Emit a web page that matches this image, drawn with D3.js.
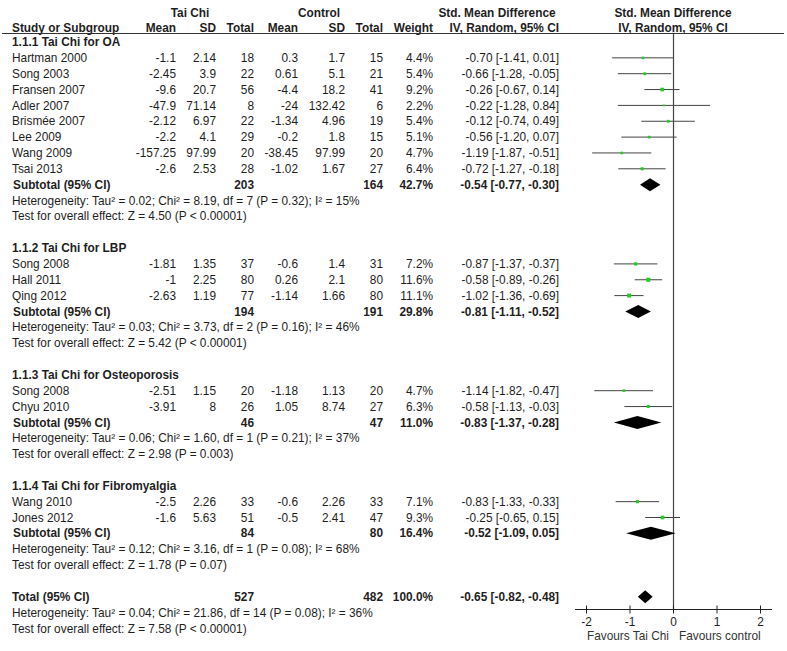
<!DOCTYPE html>
<html><head><meta charset="utf-8">
<script src="https://cdn.jsdelivr.net/npm/d3@7"></script>
<style>
body{margin:0;background:#fff}
text{font-family:"Liberation Sans",Arial,sans-serif;font-size:11.85px;fill:#1e1e1e}
</style>
</head><body><svg id="c" width="787" height="651"></svg>
<script>
const groupNames = ["1.1.1 Tai Chi for OA","1.1.2 Tai Chi for LBP","1.1.3 Tai Chi for Osteoporosis","1.1.4 Tai Chi for Fibromyalgia"];
const studyNames = ["Hartman 2000","Song 2003","Fransen 2007","Adler 2007","Brismée 2007","Lee 2009","Wang 2009","Tsai 2013","Song 2008","Hall 2011","Qing 2012","Song 2008","Chyu 2010","Wang 2010","Jones 2012"];
const studyGroup = [0,0,0,0,0,0,0,0,1,1,1,2,2,3,3];
const taiMean = [-1.1,-2.45,-9.6,-47.9,-2.12,-2.2,-157.25,-2.6,-1.81,-1,-2.63,-2.51,-3.91,-2.5,-1.6];
const taiSD = [2.14,3.9,20.7,71.14,6.97,4.1,97.99,2.53,1.35,2.25,1.19,1.15,8,2.26,5.63];
const taiN = [18,22,56,8,22,29,20,28,37,80,77,20,26,33,51];
const ctrlMean = [0.3,0.61,-4.4,-24,-1.34,-0.2,-38.45,-1.02,-0.6,0.26,-1.14,-1.18,1.05,-0.6,-0.5];
const ctrlSD = [1.7,5.1,18.2,132.42,4.96,1.8,97.99,1.67,1.4,2.1,1.66,1.13,8.74,2.26,2.41];
const ctrlN = [15,21,41,6,19,15,20,27,31,80,80,20,27,33,47];
const weight = [4.4,5.4,9.2,2.2,5.4,5.1,4.7,6.4,7.2,11.6,11.1,4.7,6.3,7.1,9.3];
const smd = [-0.70,-0.66,-0.26,-0.22,-0.12,-0.56,-1.19,-0.72,-0.87,-0.58,-1.02,-1.14,-0.58,-0.83,-0.25];
const ciLo = [-1.41,-1.28,-0.67,-1.28,-0.74,-1.20,-1.87,-1.27,-1.37,-0.89,-1.36,-1.82,-1.13,-1.33,-0.65];
const ciHi = [0.01,-0.05,0.14,0.84,0.49,0.07,-0.51,-0.18,-0.37,-0.26,-0.69,-0.47,-0.03,-0.33,0.15];

const subTaiN = [203,194,46,84];
const subCtrlN = [164,191,47,80];
const subWeight = [42.7,29.8,11.0,16.4];
const subSmd = [-0.54,-0.81,-0.83,-0.52];
const subLo = [-0.77,-1.11,-1.37,-1.09];
const subHi = [-0.30,-0.52,-0.28,0.05];
const subHet = [
 "Heterogeneity: Tau² = 0.02; Chi² = 8.19, df = 7 (P = 0.32); I² = 15%",
 "Heterogeneity: Tau² = 0.03; Chi² = 3.73, df = 2 (P = 0.16); I² = 46%",
 "Heterogeneity: Tau² = 0.06; Chi² = 1.60, df = 1 (P = 0.21); I² = 37%",
 "Heterogeneity: Tau² = 0.12; Chi² = 3.16, df = 1 (P = 0.08); I² = 68%"];
const subTest = [
 "Test for overall effect: Z = 4.50 (P < 0.00001)",
 "Test for overall effect: Z = 5.42 (P < 0.00001)",
 "Test for overall effect: Z = 2.98 (P = 0.003)",
 "Test for overall effect: Z = 1.78 (P = 0.07)"];

const totalTaiN = 527, totalCtrlN = 482, totalWeight = 100.0;
const totalSmd = -0.65, totalLo = -0.82, totalHi = -0.48;
const totalHet = "Heterogeneity: Tau² = 0.04; Chi² = 21.86, df = 14 (P = 0.08); I² = 36%";
const totalTest = "Test for overall effect: Z = 7.58 (P < 0.00001)";

const axisTicks = [-2,-1,0,1,2];
const favLeft = "Favours Tai Chi", favRight = "Favours control";

const svg = d3.select("#c");
const x = d3.scaleLinear().domain([-2,2]).range([586.5,760.5]);
const rowY = i => 42 + i*15.85;
const f2 = v => v.toFixed(2);
const ciText = (m,l,h) => `${f2(m)} [${f2(l)}, ${f2(h)}]`;

const col = {name:12, tm:176, tsd:216, tn:254, cm:298, csd:345, cn:383, w:433, ci:559};

function txt(xp, y, s, anchor, bold) {
  const t = svg.append("text").attr("x", xp).attr("y", y).attr("dy","0.35em")
    .attr("text-anchor", anchor||"start").text(s);
  if (bold) t.attr("font-weight","bold");
  return t;
}

// headers
txt(190, 12.5, "Tai Chi", "middle", true);
txt(319, 12.5, "Control", "middle", true);
txt(497, 12.5, "Std. Mean Difference", "middle", true);
txt(673, 12.5, "Std. Mean Difference", "middle", true);
const hy = 27.5;
txt(col.name, hy, "Study or Subgroup", "start", true);
txt(col.tm, hy, "Mean", "end", true);
txt(col.tsd, hy, "SD", "end", true);
txt(col.tn, hy, "Total", "end", true);
txt(col.cm, hy, "Mean", "end", true);
txt(col.csd, hy, "SD", "end", true);
txt(col.cn, hy, "Total", "end", true);
txt(col.w, hy, "Weight", "end", true);
txt(col.ci, hy, "IV, Random, 95% CI", "end", true);
txt(673, hy, "IV, Random, 95% CI", "middle", true);

svg.append("line").attr("x1",2).attr("x2",784).attr("y1",33.5).attr("y2",33.5)
  .attr("stroke","#333").attr("stroke-width",1);

// zero line
const axisY = 609.5;
svg.append("line").attr("x1",x(0)).attr("x2",x(0)).attr("y1",33.5).attr("y2",axisY)
  .attr("stroke","#444").attr("stroke-width",1.2);

function diamond(y, m, l, h) {
  const hh = 6.5;
  svg.append("path").attr("d",`M${x(l)},${y}L${x(m)},${y-hh}L${x(h)},${y}L${x(m)},${y+hh}Z`)
    .attr("fill","#000");
}

let row = 0;
groupNames.forEach((g, gi) => {
  txt(col.name, rowY(row), g, "start", true);
  row++;
  studyNames.forEach((s, i) => {
    if (studyGroup[i] !== gi) return;
    const y = rowY(row);
    txt(col.name, y, s);
    txt(col.tm, y, String(taiMean[i]), "end");
    txt(col.tsd, y, String(taiSD[i]), "end");
    txt(col.tn, y, String(taiN[i]), "end");
    txt(col.cm, y, String(ctrlMean[i]), "end");
    txt(col.csd, y, String(ctrlSD[i]), "end");
    txt(col.cn, y, String(ctrlN[i]), "end");
    txt(col.w, y, weight[i].toFixed(1)+"%", "end");
    txt(col.ci, y, ciText(smd[i], ciLo[i], ciHi[i]), "end");
    svg.append("line").attr("x1",x(ciLo[i])).attr("x2",x(ciHi[i])).attr("y1",y).attr("y2",y)
      .attr("stroke","#444").attr("stroke-width",1);
    const side = 1.2*Math.sqrt(weight[i]);
    svg.append("rect").attr("x",x(smd[i])-side/2).attr("y",y-side/2)
      .attr("width",side).attr("height",side).attr("fill","#22cc22");
    row++;
  });
  let y = rowY(row);
  txt(col.name+1, y, "Subtotal (95% CI)", "start", true);
  txt(col.tn, y, String(subTaiN[gi]), "end", true);
  txt(col.cn, y, String(subCtrlN[gi]), "end", true);
  txt(col.w, y, subWeight[gi].toFixed(1)+"%", "end", true);
  txt(col.ci, y, ciText(subSmd[gi], subLo[gi], subHi[gi]), "end", true);
  diamond(y, subSmd[gi], subLo[gi], subHi[gi]);
  row++;
  txt(col.name, rowY(row), subHet[gi]); row++;
  txt(col.name, rowY(row), subTest[gi]); row++;
  row++;
});

let ty = rowY(row);
txt(col.name, ty, "Total (95% CI)", "start", true);
txt(col.tn, ty, String(totalTaiN), "end", true);
txt(col.cn, ty, String(totalCtrlN), "end", true);
txt(col.w, ty, totalWeight.toFixed(1)+"%", "end", true);
txt(col.ci, ty, ciText(totalSmd, totalLo, totalHi), "end", true);
diamond(ty, totalSmd, totalLo, totalHi);
row++;
txt(col.name, rowY(row), totalHet); row++;
txt(col.name, rowY(row), totalTest);

// axis
const ax = svg.append("g").attr("transform",`translate(0,${axisY})`);
ax.append("line").attr("x1",575).attr("x2",772).attr("y1",0).attr("y2",0).attr("stroke","#222");
const tk = ax.selectAll("g.t").data(axisTicks).join("g").attr("class","t")
  .attr("transform", d=>`translate(${x(d)},0)`);
tk.append("line").attr("y1",-4).attr("y2",4).attr("stroke","#222");
tk.append("text").attr("y",12).attr("dy","0.35em").attr("text-anchor","middle").text(d=>String(d));
txt(669, 636, favLeft, "end").style("fill","#333");
txt(679, 636, favRight, "start").style("fill","#333");
</script></body></html>
